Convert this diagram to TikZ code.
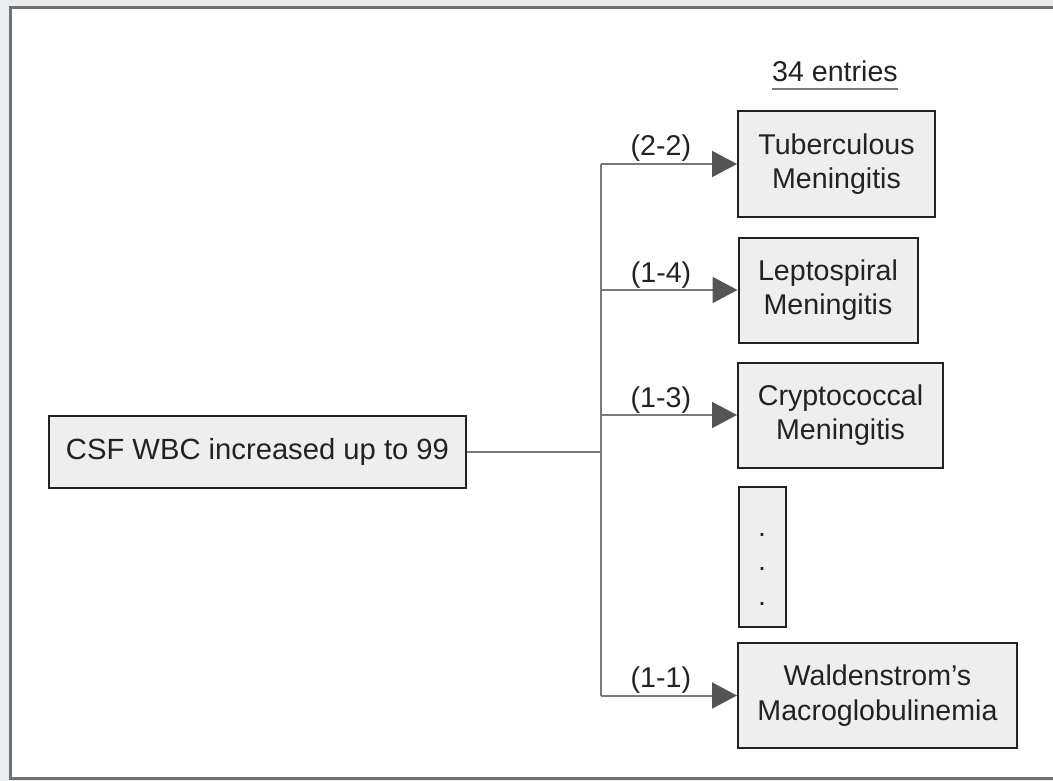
\documentclass[tikz,border=0pt]{standalone}
\usepackage{fontspec}
\setmainfont{Liberation Sans}
\usetikzlibrary{arrows.meta}
\definecolor{pagebg}{HTML}{E8EDF0}
\definecolor{framecol}{HTML}{707070}
\definecolor{boxfill}{HTML}{EEEEEE}
\definecolor{boxline}{HTML}{222222}
\definecolor{wirecol}{HTML}{7A7A7A}
\definecolor{tipcol}{HTML}{555555}
\definecolor{inkcol}{HTML}{222222}
\tikzset{
  txt/.style={font=\fontsize{28.6}{34.5}\selectfont, text=inkcol},
  dxbox/.style={txt, draw=boxline, line width=2pt, fill=boxfill, align=center,
                inner sep=0pt, minimum width=#1},
  dxbox/.default=100pt,
  wire/.style={draw=wirecol, line width=2pt},
  link/.style={wire, -{Triangle[length=25pt, width=26pt, fill=tipcol, color=tipcol]}},
  score/.style={txt, anchor=base, inner sep=0pt, yshift=8pt},
}
\begin{document}
\begin{tikzpicture}[x=1pt, y=-1pt]
\useasboundingbox (0,0) rectangle (1053,781);
% window background and framed canvas
\fill[pagebg] (0,0) rectangle (1053,781);
\draw[white!85!gray, line width=1pt] (4,3) rectangle (1070,784);
\draw[framecol, line width=3pt, fill=white] (10,8) rectangle (1070,778);

% heading
\node[txt, anchor=base, inner sep=0pt] (hdr) at (835,82) {34 entries};
\draw[wirecol, line width=1.5pt] ([yshift=-7pt]hdr.base west) -- ([yshift=-7pt]hdr.base east);

% source finding
\node[dxbox=417pt, minimum height=72pt, font=\fontsize{29.2}{34.5}\selectfont] (src) at (257.5,452) {CSF WBC increased up to 99};

% candidate diagnoses
\node[dxbox=197pt, minimum height=106pt] (d1) at (836.5,164) {Tuberculous\\Meningitis};
\node[dxbox=179pt, minimum height=105pt] (d2) at (828,290) {Leptospiral\\Meningitis};
\node[dxbox=205pt, minimum height=105pt] (d3) at (840.5,415) {Cryptococcal\\Meningitis};
\node[dxbox=47pt, minimum height=140pt,
      label={[txt, align=center, inner sep=0pt, yshift=-12pt]center:{.\\.\\.}}] (dots) at (762,557) {};
\node[dxbox=279pt, minimum height=105pt] (d5) at (877.5,695.5) {Waldenstrom’s\\Macroglobulinemia};

% branching points on the trunk
\coordinate (j1) at (601,164);
\coordinate (j2) at (601,290);
\coordinate (j3) at (601,415);
\coordinate (j5) at (601,695.5);

% connectors
\draw[wire] (src.east) -- (src.east -| j1);
\draw[wire] (j1) -- (j5);
\draw[link] (j1) -- (d1.west) node[score, pos=0.44] {(2-2)};
\draw[link] (j2) -- (d2.west) node[score, pos=0.44] {(1-4)};
\draw[link] (j3) -- (d3.west) node[score, pos=0.44] {(1-3)};
\draw[link] (j5) -- (d5.west) node[score, pos=0.44] {(1-1)};
\end{tikzpicture}
\end{document}
